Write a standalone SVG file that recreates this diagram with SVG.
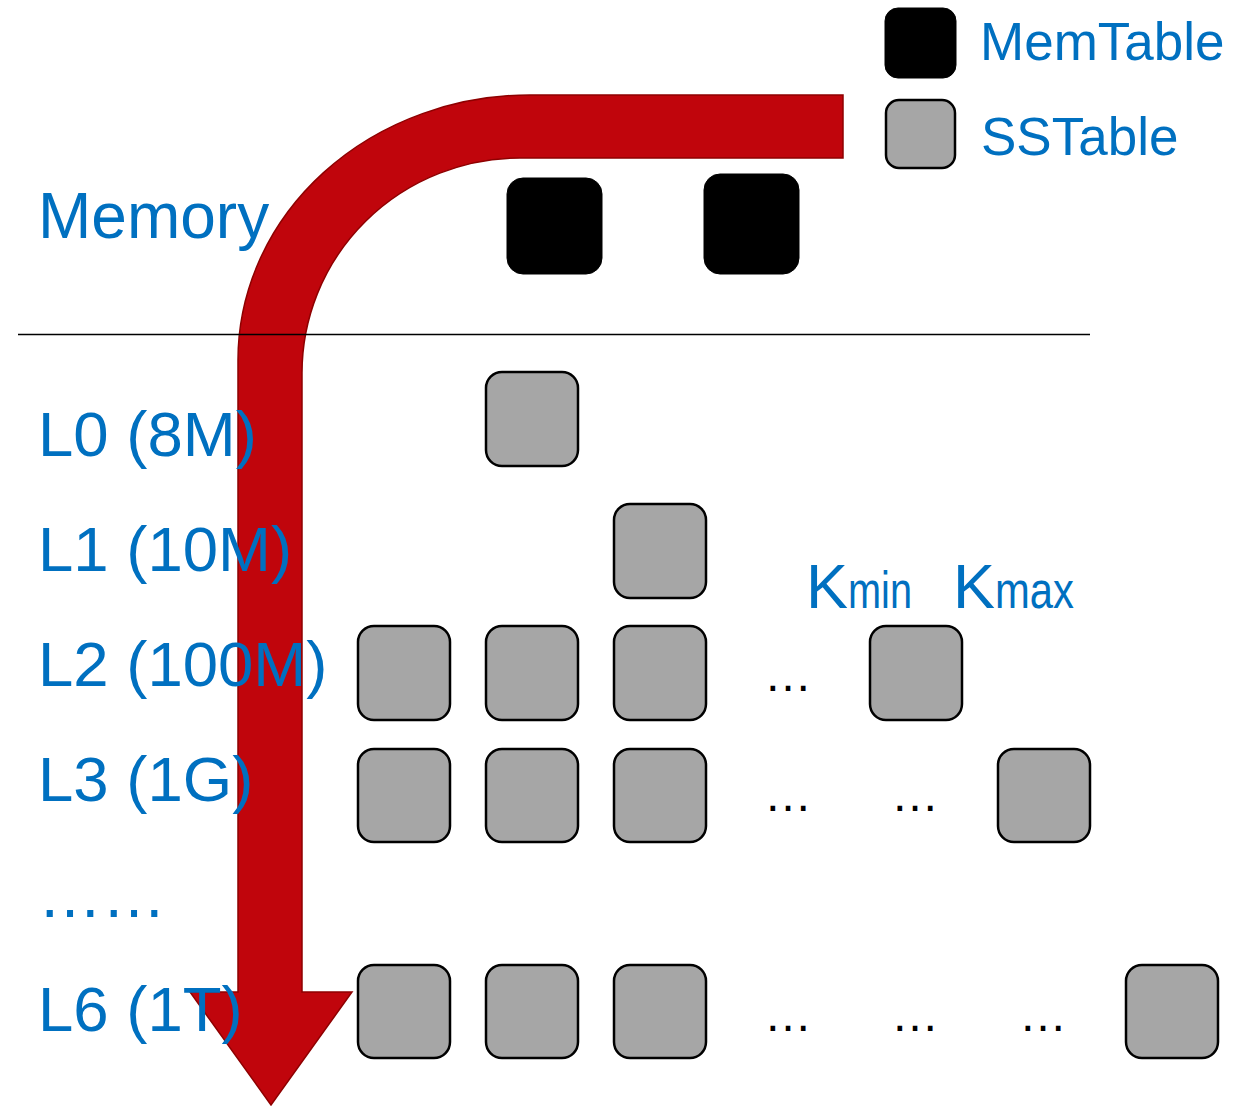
<svg xmlns="http://www.w3.org/2000/svg" width="1241" height="1106" viewBox="0 0 1241 1106">
<style>
.lbl{font-family:"Liberation Sans",Arial,sans-serif;fill:#0070C0;font-size:63.5px}
.dots{font-family:"Liberation Sans",Arial,sans-serif;fill:#000;font-size:48px;text-anchor:middle}
.mem{fill:#000;stroke:#000;stroke-width:1}
.ss{fill:#A6A6A6;stroke:#000;stroke-width:2.5}
</style>
<rect width="1241" height="1106" fill="#fff"/>
<g id="connectors">
<path id="flow-arrow" d="M843,95 L530,95 A292,265 0 0 0 238,360 L238,992 L190,992 L271,1105 L352,992 L302,992 L302,373 A218,215 0 0 1 520,158 L843,158 Z" fill="#C0050C" stroke="#8E0000" stroke-width="1.5"/>
</g>
<line x1="18" y1="334.5" x2="1090" y2="334.5" stroke="#000" stroke-width="1.5"/>
<g id="legend">
<rect class="mem" x="885" y="8" width="71" height="70" rx="13"/>
<text class="lbl" x="980" y="60" style="font-size:53px">MemTable</text>
<rect class="ss" x="886" y="100" width="69" height="68" rx="13"/>
<text class="lbl" x="981" y="155" style="font-size:53px">SSTable</text>
</g>
<g id="labels">
<text class="lbl" x="38" y="238" style="font-size:64px">Memory</text>
<text class="lbl" x="38" y="456">L0 (8M)</text>
<text class="lbl" x="38" y="571">L1 (10M)</text>
<text class="lbl" x="38" y="686">L2 (100M)</text>
<text class="lbl" x="38" y="801">L3 (1G)</text>
<text class="lbl" x="38" y="917" style="font-size:64px">……</text>
<text class="lbl" x="38" y="1031">L6 (1T)</text>
</g>
<g id="key-labels">
<text class="lbl" x="806" y="608" style="font-size:63px">K<tspan style="font-size:52px" textLength="64" lengthAdjust="spacingAndGlyphs">min</tspan></text>
<text class="lbl" x="953" y="608" style="font-size:63px">K<tspan style="font-size:52px" textLength="79" lengthAdjust="spacingAndGlyphs">max</tspan></text>
</g>
<g id="memtables">
<rect class="mem" x="507" y="178" width="95" height="96" rx="16"/>
<rect class="mem" x="704" y="174" width="95" height="100" rx="16"/>
</g>
<g id="level0"><rect class="ss" x="486" y="372" width="92" height="94" rx="16"/></g>
<g id="level1"><rect class="ss" x="614" y="504" width="92" height="94" rx="16"/></g>
<g id="level2">
<rect class="ss" x="358" y="626" width="92" height="94" rx="16"/>
<rect class="ss" x="486" y="626" width="92" height="94" rx="16"/>
<rect class="ss" x="614" y="626" width="92" height="94" rx="16"/>
<text class="dots" x="788" y="691">…</text>
<rect class="ss" x="870" y="626" width="92" height="94" rx="16"/>
</g>
<g id="level3">
<rect class="ss" x="358" y="749" width="92" height="93" rx="16"/>
<rect class="ss" x="486" y="749" width="92" height="93" rx="16"/>
<rect class="ss" x="614" y="749" width="92" height="93" rx="16"/>
<text class="dots" x="788" y="811">…</text>
<text class="dots" x="915" y="811">…</text>
<rect class="ss" x="998" y="749" width="92" height="93" rx="16"/>
</g>
<g id="level6">
<rect class="ss" x="358" y="965" width="92" height="93" rx="16"/>
<rect class="ss" x="486" y="965" width="92" height="93" rx="16"/>
<rect class="ss" x="614" y="965" width="92" height="93" rx="16"/>
<text class="dots" x="788" y="1031">…</text>
<text class="dots" x="915" y="1031">…</text>
<text class="dots" x="1043" y="1031">…</text>
<rect class="ss" x="1126" y="965" width="92" height="93" rx="16"/>
</g>
</svg>
